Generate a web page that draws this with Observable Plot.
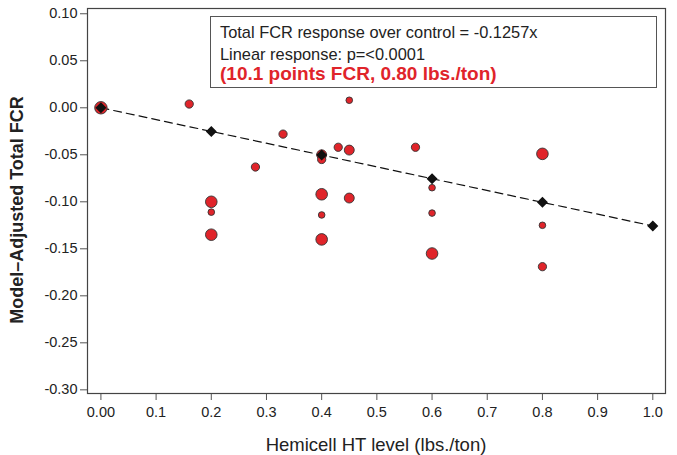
<!DOCTYPE html>
<html><head><meta charset="utf-8">
<script src="https://cdn.jsdelivr.net/npm/d3@7"></script>
<script src="https://cdn.jsdelivr.net/npm/@observablehq/plot@0.6"></script>
<style>
body{margin:0;background:#fff;font-family:"Liberation Sans",Arial,sans-serif;}
#wrap{position:relative;width:677px;height:455px;}
#note{position:absolute;left:210px;top:16px;width:447px;height:72px;border:1.3px solid #555;box-sizing:border-box;background:#fff;}
#note div{position:absolute;left:9px;white-space:nowrap;color:#222;font-size:16.4px;line-height:1;}
#note .l1{top:7px;}
#note .l2{top:29px;}
#note .l3{top:47px;color:#e0242a;font-weight:bold;font-size:19px;}
</style></head>
<body>
<div id="wrap"></div>
<script>
// Observed points: Hemicell HT level, model-adjusted total FCR, relative point weight
const levels = [0, 0.16, 0.2, 0.2, 0.2, 0.28, 0.33, 0.4, 0.4, 0.4, 0.4, 0.4, 0.43, 0.45, 0.45, 0.45, 0.57, 0.6, 0.6, 0.6, 0.8, 0.8, 0.8];
const fcr    = [0, 0.004, -0.100, -0.111, -0.135, -0.063, -0.028, -0.050, -0.055, -0.092, -0.114, -0.140, -0.042, 0.008, -0.045, -0.096, -0.042, -0.085, -0.112, -0.155, -0.049, -0.125, -0.169];
const weight = [4.5, 2, 4, 1, 4, 2, 2, 3, 2, 4, 1, 4, 2, 1, 3, 3, 2, 1, 1, 4, 4, 1, 2];
// Fitted linear response
const slope = -0.1257;
const fitLevels = [0, 0.2, 0.4, 0.6, 0.8, 1.0];
// Tick labels
const xTicks = [0, 0.1, 0.2, 0.3, 0.4, 0.5, 0.6, 0.7, 0.8, 0.9, 1.0];
const xTickLabels = ["0.00", "0.1", "0.2", "0.3", "0.4", "0.5", "0.6", "0.7", "0.8", "0.9", "1.0"];
const yTicks = [0.10, 0.05, 0.00, -0.05, -0.10, -0.15, -0.20, -0.25, -0.30];
const noteLines = ["Total FCR response over control = -0.1257x", "Linear response: p=<0.0001", "(10.1 points FCR, 0.80 lbs./ton)"];
const xTitle = "Hemicell HT level (lbs./ton)";
const yTitle = "Model\u2013Adjusted Total FCR";

const points = levels.map((x, i) => ({x, y: fcr[i], w: weight[i]}));
const fit = fitLevels.map(x => ({x, y: slope * x}));

const plot = Plot.plot({
  width: 677, height: 455,
  marginLeft: 87, marginRight: 12, marginTop: 8, marginBottom: 62,
  style: {fontFamily: "'Liberation Sans', Arial, sans-serif", fontSize: "14.5px", color: "#222", background: "#fff"},
  x: {domain: [-0.0243, 1.023], ticks: xTicks, tickFormat: d => xTickLabels[xTicks.indexOf(d)], label: null},
  y: {domain: [-0.3039, 0.1056], ticks: yTicks, tickFormat: d => d.toFixed(2), label: null},
  r: {type: "linear", domain: [1, 4], range: [3.3, 5.8]},
  marks: [
    Plot.axisX({ticks: xTicks, tickFormat: d => xTickLabels[xTicks.indexOf(d)], tickSize: 7, tickPadding: 6, stroke: "#555", fontSize: 14.5, label: null}),
    Plot.axisY({ticks: yTicks, tickFormat: d => d.toFixed(2), tickSize: 7, tickPadding: 3, stroke: "#555", fontSize: 14.5, label: null}),
    Plot.line(fit, {x: "x", y: "y", stroke: "#111", strokeWidth: 1.2, strokeDasharray: "8,5"}),
    Plot.dot(points, {x: "x", y: "y", r: "w", fill: "#e0242a", stroke: "#333", strokeWidth: 0.9}),
    Plot.dot(fit, {x: "x", y: "y", symbol: "diamond2", r: 4, fill: "#111", stroke: "#111"}),
    Plot.frame({stroke: "#444", strokeWidth: 1.2})
  ]
});

const svg = d3.select(plot);
svg.append("text").attr("x", 376).attr("y", 451).attr("text-anchor", "middle")
  .attr("font-size", 18.5).attr("fill", "#222").text(xTitle);
svg.append("text").attr("transform", "translate(23,210) rotate(-90)").attr("text-anchor", "middle")
  .attr("font-size", 18).attr("font-weight", "bold").attr("fill", "#222").text(yTitle);

const wrap = document.getElementById("wrap");
wrap.appendChild(plot);
const note = document.createElement("div");
note.id = "note";
noteLines.forEach((t, i) => {
  const d = document.createElement("div");
  d.className = "l" + (i + 1);
  d.textContent = t;
  note.appendChild(d);
});
wrap.appendChild(note);
</script>
</body></html>
